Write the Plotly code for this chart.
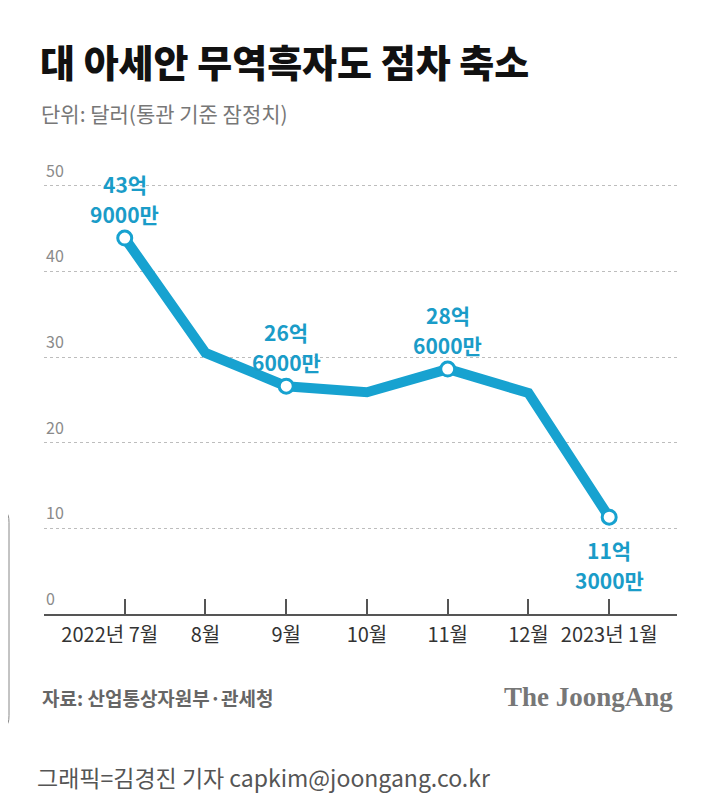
import plotly.graph_objects as go

months = ["2022년 7월", "8월", "9월", "10월", "11월", "12월", "2023년 1월"]
surplus = [43.9, 30.5, 26.6, 25.9, 28.6, 25.8, 11.3]
label_idx = [0, 2, 4, 6]
label_eok = ["43억", "26억", "28억", "11억"]
label_man = ["9000만", "6000만", "6000만", "3000만"]
label_pos = ["top", "top", "top", "bottom"]
y_ticks = [0, 10, 20, 30, 40, 50]

BLUE = "#17a2d0"
LBL = "#1a9cc8"
FONT = "Noto Sans CJK KR"

# the page body has an 8px margin: work in window pixels, convert to figure pixels
OFF = 8
W, H = 720 - 2 * OFF, 811 - 2 * OFF
L, R, T, B = 44 - OFF, 720 - 677 - OFF, 143 - OFF, 811 - 614 - OFF
pw, ph = W - L - R, H - T - B


def to_paper(xp, yp):
    return (xp - OFF - L) / pw, (H - B - (yp - OFF)) / ph


x = list(range(len(months)))
tick_text = [months[0] + "\u2002\u2002\u2002"] + months[1:]

fig = go.Figure()
fig.add_trace(go.Scatter(
    x=x, y=surplus, mode="lines",
    line=dict(color=BLUE, width=10), hoverinfo="skip", showlegend=False,
))
fig.add_trace(go.Scatter(
    x=[x[i] for i in label_idx], y=[surplus[i] for i in label_idx],
    mode="markers", showlegend=False, hoverinfo="skip",
    marker=dict(size=14, color="white", line=dict(color=BLUE, width=3)),
))

lab_font = dict(family=FONT, size=21, color=LBL, weight=700)
for i, e, m, p in zip(label_idx, label_eok, label_man, label_pos):
    if p == "top":
        shifts = [(m, 24), (e, 54)]
    else:
        shifts = [(e, -33), (m, -63)]
    for txt, sh in shifts:
        fig.add_annotation(x=x[i], y=surplus[i], text=txt, showarrow=False,
                           xanchor="center", yanchor="middle", yshift=sh,
                           font=lab_font, borderpad=0)

for v in y_ticks:
    fig.add_annotation(
        x=0, xref="paper", y=v, yref="y", text=str(v), showarrow=False,
        xanchor="left", yanchor="bottom", yshift=2,
        font=dict(family=FONT, size=16, color="#8a8a8a"),
    )

fig.update_xaxes(
    range=[-1.0, 6.84], tickvals=x, ticktext=tick_text, tickangle=0,
    showgrid=False, zeroline=False,
    showline=True, linecolor="#555555", linewidth=2,
    ticks="inside", ticklen=15, tickcolor="#555555", tickwidth=1.5,
    tickfont=dict(family=FONT, size=20, color="#333333"),
    ticklabelstandoff=2,
)
fig.update_yaxes(
    range=[0, 55], tickvals=y_ticks, showticklabels=False,
    showgrid=True, gridcolor="#bdbdbd", griddash="dot", gridwidth=1,
    zeroline=False, showline=False,
)

ann_common = dict(showarrow=False, xref="paper", yref="paper")

tx, ty = to_paper(38, 60)
fig.add_annotation(x=tx, y=ty, text="대 아세안 무역흑자도 점차 축소", xanchor="left", yanchor="middle",
                   font=dict(family=FONT, size=38, color="#111111", weight=900), **ann_common)
tx, ty = to_paper(39, 113)
fig.add_annotation(x=tx, y=ty, text="단위: 달러(통관 기준 잠정치)", xanchor="left", yanchor="middle",
                   font=dict(family=FONT, size=21, color="#777777"), **ann_common)
tx, ty = to_paper(40, 697)
fig.add_annotation(x=tx, y=ty, text="자료: 산업통상자원부·관세청", xanchor="left", yanchor="middle",
                   font=dict(family=FONT, size=19, color="#666666", weight=700), **ann_common)
tx, ty = to_paper(675, 697)
fig.add_annotation(x=tx, y=ty, text="The JoongAng", xanchor="right", yanchor="middle",
                   font=dict(family="Liberation Serif", size=27, color="#777777", weight=700), **ann_common)
tx, ty = to_paper(35, 777)
fig.add_annotation(x=tx, y=ty, text="그래픽=김경진 기자 capkim@joongang.co.kr", xanchor="left", yanchor="middle",
                   font=dict(family=FONT, size=23, color="#555555"), **ann_common)

# left edge UI bracket
x0, y0 = to_paper(-2, 513)
x1, y1 = to_paper(9, 725)
xm = x0 * 0.3 + x1 * 0.7
fig.add_shape(type="path", xref="paper", yref="paper",
              path=f"M {x0} {y0} L {xm} {y0} Q {x1} {y0} {x1} {y0 - 0.02} "
                   f"L {x1} {y1 + 0.02} Q {x1} {y1} {xm} {y1} L {x0} {y1}",
              line=dict(color="#888888", width=1))

fig.update_layout(
    width=W, height=H,
    margin=dict(l=L, r=R, t=T, b=B),
    paper_bgcolor="white", plot_bgcolor="white",
    showlegend=False,
)

fig.write_html("out.html")
